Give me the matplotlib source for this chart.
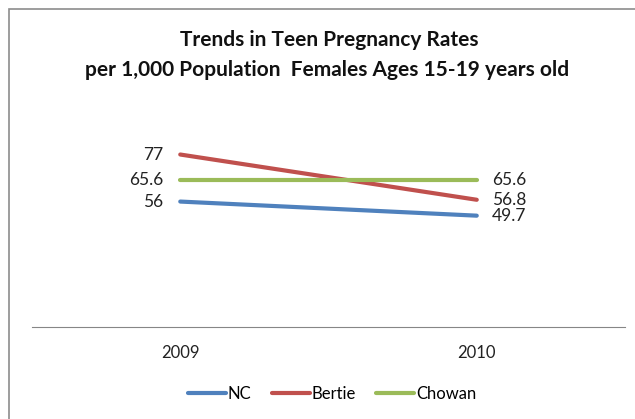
import matplotlib.pyplot as plt
from matplotlib.patches import Rectangle

years = ["2009", "2010"]
series_names = ["NC", "Bertie", "Chowan"]
nc = [56, 49.7]
bertie = [77, 56.8]
chowan = [65.6, 65.6]
colors = ["#4F81BD", "#C0504D", "#9BBB59"]

plt.rcParams['font.family'] = ['Lato', 'DejaVu Sans']

fig = plt.figure(figsize=(6.35, 4.19), dpi=100)
W, H = 635, 419
# chart frame (cropped on the right and bottom)
fig.patches.append(Rectangle((9 / W, -0.1), 2.0, (419 - 9) / H + 0.1,
                             transform=fig.transFigure, fill=False,
                             edgecolor="#8c8c8c", linewidth=1.2))

ax = fig.add_axes([32 / W, (H - 327) / H, (625 - 32) / W, (327 - 103) / H])
ax.set_xlim(-0.5, 1.5)
ax.set_ylim(0, 100)
x = list(range(len(years)))
for name, vals, c in zip(series_names, [nc, bertie, chowan], colors):
    ax.plot(x, vals, color=c, linewidth=3, label=name, solid_capstyle="round")
    ax.annotate(f"{vals[0]:g}", (x[0], vals[0]), xytext=(-12, 0),
                textcoords="offset points", ha="right", va="center",
                fontsize=12.5, color="#222222")
    ax.annotate(f"{vals[1]:g}", (x[1], vals[1]), xytext=(11, 0),
                textcoords="offset points", ha="left", va="center",
                fontsize=12.5, color="#222222")

for s in ["left", "right", "top"]:
    ax.spines[s].set_visible(False)
ax.spines["bottom"].set_color("#868686")
ax.set_yticks([])
ax.set_xticks(x)
ax.set_xticklabels(years, fontsize=12, color="#222222")
ax.tick_params(axis="x", length=0, pad=13)
ax.patch.set_alpha(0)

fig.text(329 / W, (H - 40) / H, "Trends in Teen Pregnancy Rates", ha="center",
         va="center", fontsize=15, fontweight="bold", color="#111111")
fig.text(327 / W, (H - 70) / H, "per 1,000 Population  Females Ages 15-19 years old",
         ha="center", va="center", fontsize=15, fontweight="bold", color="#111111")

fig.legend(loc="center", bbox_to_anchor=(332 / W, (H - 394) / H), ncol=3,
           frameon=False, fontsize=12, handlelength=2.3, handletextpad=0.1,
           columnspacing=1.2)

fig.savefig("out.png", dpi=100)
